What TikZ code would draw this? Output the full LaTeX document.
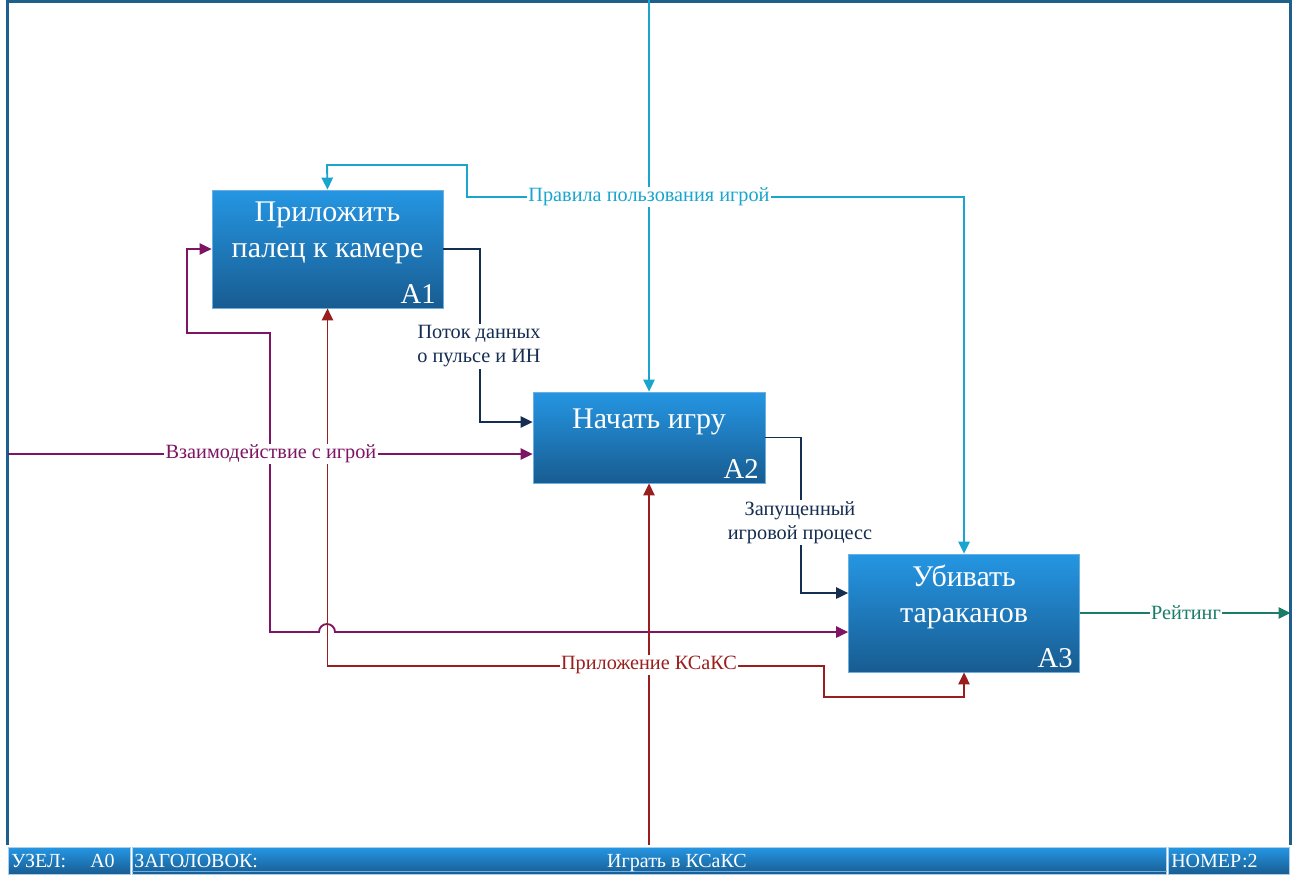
\documentclass[tikz,border=0pt]{standalone}
\usepackage{fontspec}
\setmainfont{Liberation Serif}
\newfontfamily\barfont{Liberation Serif}
\usetikzlibrary{arrows.meta,calc}
\definecolor{cyanl}{RGB}{26,165,207}
\definecolor{navyl}{RGB}{20,45,80}
\definecolor{purpl}{RGB}{125,20,100}
\definecolor{redl}{RGB}{155,30,30}
\definecolor{teall}{RGB}{25,125,105}
\definecolor{framec}{RGB}{30,95,140}
\definecolor{boxtop}{RGB}{37,150,227}
\definecolor{boxbot}{RGB}{24,92,145}
\definecolor{boxedge}{RGB}{110,175,225}
\tikzset{
  x=0.75pt, y=-0.75pt,
  arr/.style={line width=1.4pt, -{Triangle[length=9pt,width=8.5pt]}},
  func/.style={rectangle, top color=boxtop, bottom color=boxbot, draw=boxedge, line width=0.6pt, inner sep=0pt},
  ftext/.style={text=white, font=\fontsize{22.5}{27}\selectfont, align=center, inner sep=0pt},
  fnum/.style={text=white, font=\fontsize{21.5}{27}\selectfont, inner sep=0pt, anchor=south east},
  lbl/.style={fill=white, inner sep=1pt, font=\fontsize{15.2}{18}\selectfont, align=center},
  cell/.style={rectangle, top color=boxtop, bottom color=boxbot, draw=boxedge!60!white, line width=0.6pt, inner sep=0pt, anchor=north west},
  celltext/.style={text=white, font=\barfont\fontsize{15}{18}\selectfont, inner sep=0pt},
}
\begin{document}
\begin{tikzpicture}
\useasboundingbox (0,0) rectangle (1294,881);
% frame
\coordinate (flb) at (7.5,845);
\coordinate (frb) at (1290.5,845);
\draw[framec, line width=2.2pt] (flb) -- (7.5,1.5) -- (1290.5,1.5) -- (frb);
% boxes
\node[func, minimum width=231*0.75pt, minimum height=118*0.75pt] (A1) at (327.5,249) {};
\node[func, minimum width=232*0.75pt, minimum height=91*0.75pt] (A2) at (649,437.5) {};
\node[func, minimum width=231*0.75pt, minimum height=118*0.75pt] (A3) at (964,613) {};
\node[ftext] (t1) at (327.5,232.5) {Приложить\\палец к камере};
\node[ftext] (t2) at (649,422) {Начать игру};
\node[ftext] (t3) at (964,596.5) {Убивать\\тараканов};
\node[fnum] (n1) at (436,304) {A1};
\node[fnum] (n2) at (759,479) {A2};
\node[fnum] (n3) at (1073,668) {A3};
% coordinates
\coordinate (ctop) at (649,0);
\coordinate (cj) at (649,197);
\coordinate (lin) at (7.5,454);
\coordinate (pj) at (270,454);
\coordinate (rbot) at (649,845);
\coordinate (rj) at (649,666);
\coordinate (out) at (1290.5,613);
% control (cyan)
\draw[arr, cyanl] (ctop) -- (A2.north);
\draw[arr, cyanl] (cj) -- (467,197) |- (327,165) -- (A1.north);
\draw[arr, cyanl] (cj) -| (A3.north);
% outputs (navy)
\draw[arr, navyl] (A1.east) -| (480,422) -- ($(A2.west)+(0,-15.5)$);
\draw[arr, navyl] (A2.east) -| (801,593) -- ($(A3.west)+(0,-20)$);
% input (purple)
\draw[arr, purpl] (lin) -- ($(A2.west)+(0,16.5)$);
\draw[arr, purpl] (pj) |- (187,333) |- (A1.west);
\draw[arr, purpl] (pj) |- (319,632) arc[start angle=180, end angle=0, radius=6pt] -- ($(A3.west)+(0,19)$);
% mechanism (red)
\draw[arr, redl] (rbot) -- (A2.south);
\draw[arr, redl] (rj) -| (A1.south);
\draw[arr, redl] (rj) -- (824,666) |- (964,697) -- (A3.south);
% output (teal)
\draw[arr, teall] (A3.east) -- (out);
% labels
\node[lbl, text=cyanl] (L1) at (649,197) {Правила пользования игрой};
\node[lbl, text=navyl] (L2) at (479,346.5) {Поток данных\\о пульсе и ИН};
\node[lbl, text=navyl] (L3) at (800,522.5) {Запущенный\\игровой процесс};
\node[lbl, text=purpl] (L4) at (271,454) {Взаимодействие с игрой};
\node[lbl, text=redl] (L5) at (649,665) {Приложение КСаКС};
\node[lbl, text=teall] (L6) at (1186,613) {Рейтинг};
% bottom bar
\node[cell, minimum width=122*0.75pt, minimum height=27*0.75pt] (B1) at (8,847) {};
\node[cell, minimum width=1034*0.75pt, minimum height=27*0.75pt] (B2) at (132,847) {};
\node[cell, minimum width=121*0.75pt, minimum height=27*0.75pt] (B3) at (1168,847) {};
\draw[boxedge, line width=0.6pt] ($(B2.south west)+(0,-3)$) -- ($(B2.south east)+(0,-3)$);
\node[celltext, anchor=base west] (b1a) at (11,867) {УЗЕЛ:};
\node[celltext, anchor=base west] (b1b) at (90,867) {A0};
\node[celltext, anchor=base west] (b2a) at (134,867) {ЗАГОЛОВОК:};
\node[celltext, anchor=base] (b2b) at (677,867) {Играть в КСаКС};
\node[celltext, anchor=base west] (b3a) at (1171,867) {НОМЕР:2};
\end{tikzpicture}
\end{document}
